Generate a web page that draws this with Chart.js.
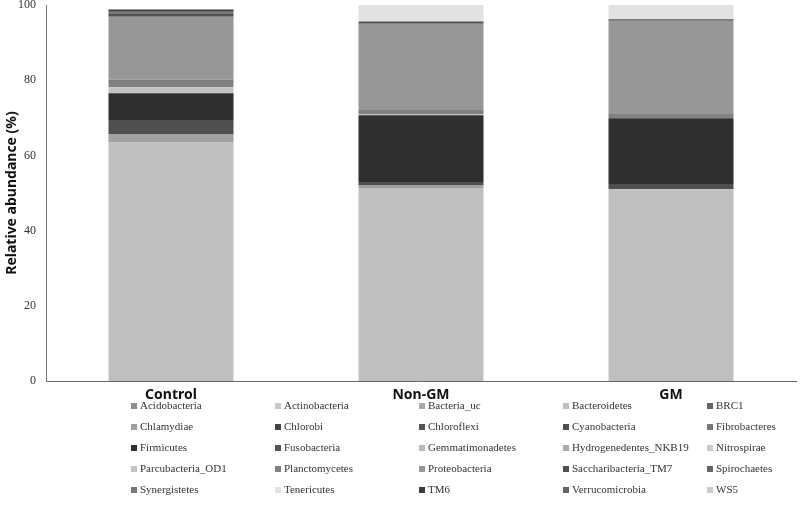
<!DOCTYPE html>
<html>
<head>
<meta charset="utf-8">
<script src="https://cdn.jsdelivr.net/npm/chart.js@4"></script>
<style>
  html, body { margin: 0; padding: 0; background: #fff; }
  #wrap { width: 800px; height: 505px; position: relative; }
</style>
</head>
<body>
<div id="wrap"><canvas id="chart"></canvas></div>
<script>
// groups on the x axis
var groups = ['Control', 'Non-GM', 'GM'];

// phyla, in legend / stacking order
var phyla = ['Acidobacteria', 'Actinobacteria', 'Bacteria_uc', 'Bacteroidetes', 'BRC1',
    'Chlamydiae', 'Chlorobi', 'Chloroflexi', 'Cyanobacteria', 'Fibrobacteres',
    'Firmicutes', 'Fusobacteria', 'Gemmatimonadetes', 'Hydrogenedentes_NKB19', 'Nitrospirae',
    'Parcubacteria_OD1', 'Planctomycetes', 'Proteobacteria', 'Saccharibacteria_TM7', 'Spirochaetes',
    'Synergistetes', 'Tenericutes', 'TM6', 'Verrucomicrobia', 'WS5'];

// relative abundance (%) per phylum, one list per group
var control = [0, 0, 0, 63.4, 0,
    2.3, 0, 0, 3.7, 0,
    7.1, 0, 0, 0, 0,
    1.6, 2.0, 16.8, 0.7, 0,
    0.6, 0, 0.6, 0, 0];
var nonGM = [0, 0, 0, 51.3, 0,
    0.7, 0, 0, 0.9, 0,
    17.8, 0, 0, 0, 0,
    0.3, 1.1, 22.9, 0.6, 0,
    0, 4.4, 0, 0, 0];
var gm = [0, 0, 0, 51.0, 0,
    0, 0, 0, 1.4, 0,
    17.5, 0, 0, 0, 0,
    0, 1.3, 24.6, 0.4, 0,
    0, 3.8, 0, 0, 0];

var yTicks = [0, 20, 40, 60, 80, 100];

var colors = ['#8c8c8c', '#c8c8c8', '#a8a8a8', '#bfbfbf', '#666666',
    '#a0a0a0', '#444444', '#555555', '#4f4f4f', '#777777',
    '#2f2f2f', '#555555', '#bbbbbb', '#aaaaaa', '#cccccc',
    '#c4c4c4', '#818181', '#979797', '#505050', '#666666',
    '#787878', '#e2e2e2', '#3a3a3a', '#666666', '#cccccc'];

var datasets = phyla.map(function (name, i) {
    return {
        label: name,
        data: [control[i], nonGM[i], gm[i]],
        backgroundColor: colors[i],
        borderWidth: 0
    };
});

// legend drawn as a fixed 5 column grid under the axis
var gridLegend = {
    id: 'gridLegend',
    afterDraw: function (chart) {
        var ctx = chart.ctx;
        ctx.save();
        ctx.font = '11px "Liberation Serif"';
        ctx.textBaseline = 'middle';
        chart.data.datasets.forEach(function (ds, i) {
            var x = 131 + (i % 5) * 144;
            var y = 406 + Math.floor(i / 5) * 21;
            ctx.fillStyle = ds.backgroundColor;
            ctx.fillRect(x, y - 3, 6, 6);
            ctx.fillStyle = '#333';
            ctx.fillText(ds.label, x + 9, y);
        });
        ctx.restore();
    }
};

var canvas = document.getElementById('chart');
var chart = new Chart(canvas.getContext('2d'), {
    type: 'bar',
    data: { labels: groups, datasets: datasets },
    options: {
        responsive: true,
        maintainAspectRatio: false,
        animation: false,
        layout: { padding: { top: 5, right: 4, bottom: 100, left: 0 } },
        datasets: { bar: { categoryPercentage: 1, barPercentage: 0.5 } },
        plugins: {
            legend: { display: false },
            tooltip: { enabled: false }
        },
        scales: {
            x: {
                stacked: true,
                grid: { display: false, drawTicks: false },
                border: { display: true, color: '#666', width: 1 },
                ticks: {
                    padding: 6,
                    color: '#111',
                    font: { family: '"Noto Sans"', size: 14, weight: 'bold' }
                },
                afterFit: function (scale) { scale.height = 24; }
            },
            y: {
                stacked: true,
                min: 0,
                max: 100,
                afterBuildTicks: function (scale) {
                    scale.ticks = yTicks.map(function (v) { return { value: v }; });
                },
                grid: { display: false, drawTicks: false },
                border: { display: true, color: '#777', width: 1 },
                ticks: {
                    padding: 10,
                    color: '#333',
                    font: { family: '"Liberation Serif"', size: 12 }
                },
                title: {
                    display: true,
                    text: 'Relative abundance (%)',
                    color: '#111',
                    padding: { top: 4, bottom: 0 },
                    font: { family: '"Noto Sans"', size: 14, weight: 'bold' }
                },
                afterFit: function (scale) {
                    scale.width = 46;
                    scale.paddingTop = 0;
                    scale.paddingBottom = 0;
                }
            }
        }
    },
    plugins: [gridLegend]
});
</script>
</body>
</html>
